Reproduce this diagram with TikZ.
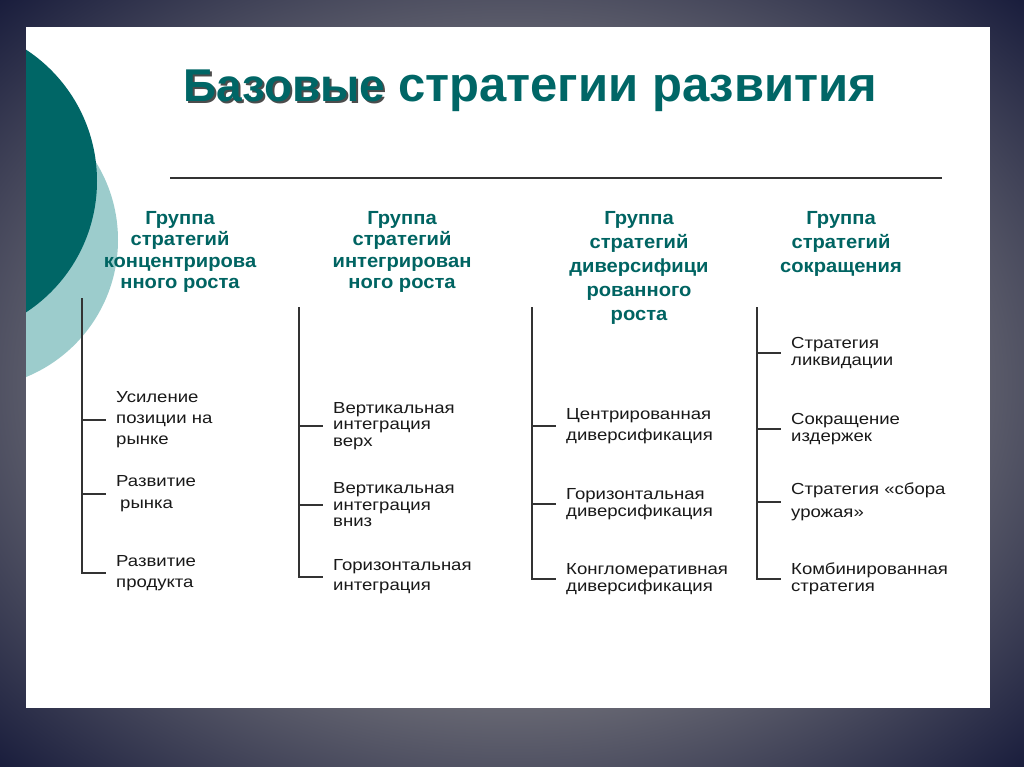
\documentclass[tikz,border=0pt]{standalone}
\usepackage{fontspec}
\setmainfont{Liberation Sans}
\newfontfamily\itemfont[FakeStretch=1.16]{Liberation Sans}
\newfontfamily\headfont[FakeStretch=1.06]{Liberation Sans}
\usetikzlibrary{positioning}
\definecolor{tealdark}{RGB}{0,102,102}
\definecolor{teallight}{RGB}{156,204,204}
\definecolor{headteal}{RGB}{0,100,98}
\definecolor{bgmid}{RGB}{108,108,118}
\definecolor{bgdark}{RGB}{22,26,58}
\pgfdeclareradialshading{slidebg}{\pgfpoint{0bp}{0bp}}{color(0bp)=(bgmid); color(20bp)=(bgmid); color(36bp)=(bgdark); color(50bp)=(bgdark)}

\begin{document}
\begin{tikzpicture}[x=1pt, y=-1pt,
  title/.style={inner sep=0pt, anchor=base west, text=tealdark, font=\bfseries},
  head/.style={inner sep=0pt, anchor=north, align=center, text=headteal, font=\headfont\fontsize{19}{21.5}\selectfont\bfseries},
  headwide/.style={head, font=\headfont\fontsize{19}{24}\selectfont\bfseries},
  item/.style={anchor=west, inner xsep=10pt, inner ysep=0pt, align=left, text=black!90, font=\itemfont\fontsize{16}{21}\selectfont},
  itemtight/.style={item, font=\itemfont\fontsize{16}{16.5}\selectfont},
  tree/.style={line width=1.3pt, black!80}]
  % frame and slide
  \shade[shading=slidebg] (0,0) rectangle (1024,767);
  \fill[white] (26,27) rectangle (990,708);
  \begin{scope}
    \clip (26,27) rectangle (990,708);
    \fill[teallight] (-30,240) circle (148);
    \fill[tealdark] (-60,181) circle (157);
  \end{scope}
  % title
  \node[title, text=black!70] (ttlshadow) at (185,104) {\fontsize{46}{48}\selectfont Базовые};
  \node[title] (ttl) at (183,102) {\fontsize{46}{48}\selectfont Базовые \fontsize{49}{52}\selectfont стратегии развития};
  \draw[line width=1.4pt, black!80] (170,178) -- (942,178);
  % group headings
  \node[head] (g1) at (180,211) {Группа\\стратегий\\концентрирова\\нного роста};
  \node[head] (g2) at (402,211) {Группа\\стратегий\\интегрирован\\ного роста};
  \node[headwide] (g3) at (639,211) {Группа\\стратегий\\диверсифици\\рованного\\роста};
  \node[headwide] (g4) at (841,211) {Группа\\стратегий\\сокращения};
  % column 1
  \coordinate (v1) at (82,298);
  \node[item] (i11) at (106,420) {Усиление\\позиции на\\рынке};
  \node[item, font=\itemfont\fontsize{16}{22}\selectfont] (i12) at (106,494) {Развитие\\\hspace{4pt}рынка};
  \node[item] (i13) at (106,573) {Развитие\\продукта};
  \draw[tree] (v1) |- (i13.west);
  \draw[tree] (v1 |- i11.west) -- (i11.west);
  \draw[tree] (v1 |- i12.west) -- (i12.west);
  % column 2
  \coordinate (v2) at (299,307);
  \node[itemtight] (i21) at (323,426) {Вертикальная\\интеграция\\верх};
  \node[itemtight] (i22) at (323,505) {Вертикальная\\интеграция\\вниз};
  \node[item, font=\itemfont\fontsize{16}{20}\selectfont] (i23) at (323,577) {Горизонтальная\\интеграция};
  \draw[tree] (v2) |- (i23.west);
  \draw[tree] (v2 |- i21.west) -- (i21.west);
  \draw[tree] (v2 |- i22.west) -- (i22.west);
  % column 3
  \coordinate (v3) at (532,307);
  \node[item] (i31) at (556,426) {Центрированная\\диверсификация};
  \node[itemtight] (i32) at (556,504) {Горизонтальная\\диверсификация};
  \node[itemtight] (i33) at (556,579) {Конгломеративная\\диверсификация};
  \draw[tree] (v3) |- (i33.west);
  \draw[tree] (v3 |- i31.west) -- (i31.west);
  \draw[tree] (v3 |- i32.west) -- (i32.west);
  % column 4
  \coordinate (v4) at (757,307);
  \node[itemtight] (i41) at (781,353) {Стратегия\\ликвидации};
  \node[itemtight] (i42) at (781,429) {Сокращение\\издержек};
  \node[item, font=\itemfont\fontsize{16}{23}\selectfont] (i43) at (781,502) {Стратегия «сбора\\урожая»};
  \node[itemtight] (i44) at (781,579) {Комбинированная\\стратегия};
  \draw[tree] (v4) |- (i44.west);
  \draw[tree] (v4 |- i41.west) -- (i41.west);
  \draw[tree] (v4 |- i42.west) -- (i42.west);
  \draw[tree] (v4 |- i43.west) -- (i43.west);
\end{tikzpicture}
\end{document}
